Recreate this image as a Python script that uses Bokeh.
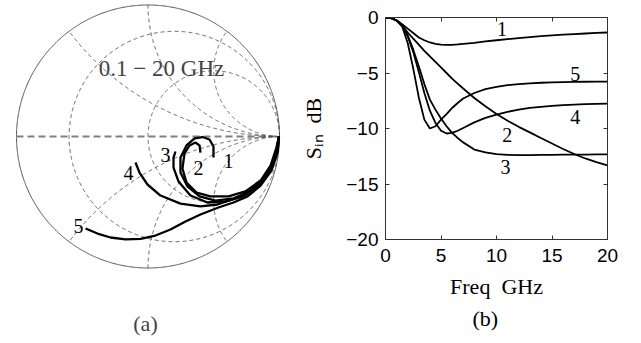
import numpy as np
from bokeh.plotting import figure
from bokeh.models import Range1d, FixedTicker, LinearAxis, Label, Title
from bokeh.layouts import row
from bokeh.core.properties import value
from bokeh.embed import file_html
from bokeh.resources import INLINE

SERIF = "Liberation Serif"
SANS = "Liberation Sans"

# ---------------- Smith chart (a) ----------------
r_grid = [0.25, 1.0]
x_grid = [0.5, 1.0, 2.0]

c1_re = [0.996, 0.985, 0.947, 0.878, 0.779, 0.650, 0.513, 0.392, 0.300, 0.247, 0.247, 0.293, 0.354, 0.414, 0.468, 0.498, 0.498]
c1_im = [0.0, -0.068, -0.205, -0.327, -0.418, -0.471, -0.487, -0.456, -0.380, -0.274, -0.160, -0.068, -0.015, -0.004, -0.023, -0.076, -0.160]
c2_re = [0.996, 0.977, 0.932, 0.856, 0.741, 0.612, 0.475, 0.369, 0.293, 0.262, 0.278, 0.316, 0.361, 0.392, 0.399]
c2_im = [0.0, -0.084, -0.221, -0.335, -0.418, -0.456, -0.456, -0.426, -0.350, -0.243, -0.129, -0.068, -0.046, -0.068, -0.122]
c3_re = [0.996, 0.977, 0.932, 0.848, 0.726, 0.589, 0.452, 0.323, 0.232, 0.194, 0.194, 0.209]
c3_im = [0.0, -0.099, -0.243, -0.365, -0.456, -0.494, -0.502, -0.449, -0.342, -0.236, -0.160, -0.114]
c4_re = [0.996, 0.985, 0.947, 0.894, 0.802, 0.665, 0.529, 0.399, 0.247, 0.095, -0.004, -0.065, -0.095]
c4_im = [0.0, -0.106, -0.221, -0.312, -0.395, -0.471, -0.517, -0.532, -0.510, -0.449, -0.365, -0.274, -0.198]
c5_re = [0.996, 0.985, 0.939, 0.856, 0.757, 0.650, 0.536, 0.399, 0.285, 0.171, 0.057, -0.057, -0.171, -0.285, -0.384, -0.475]
c5_im = [0.0, -0.122, -0.259, -0.373, -0.456, -0.502, -0.540, -0.593, -0.646, -0.707, -0.753, -0.779, -0.783, -0.768, -0.738, -0.700]

smith_lab_text = ["1", "2", "3", "4", "5"]
smith_lab_re = [0.612, 0.384, 0.133, -0.148, -0.528]
smith_lab_im = [-0.183, -0.243, -0.144, -0.281, -0.677]

# ---------------- S_in plot (b) ----------------
freq = [0, 0.5, 1, 1.5, 2, 2.5, 3, 3.5, 4, 4.5, 5, 5.5, 6, 6.5, 7, 8, 9, 10, 11, 12, 13, 14, 15, 16, 17, 18, 19, 20]
s1 = [0, -0.05, -0.25, -0.6, -1.0, -1.4, -1.8, -2.05, -2.25, -2.38, -2.45, -2.47, -2.46, -2.43, -2.38, -2.28, -2.15, -2.05, -1.95, -1.85, -1.76, -1.68, -1.61, -1.55, -1.49, -1.44, -1.39, -1.35]
s2 = [0, -0.05, -0.27, -0.7, -1.35, -1.9, -2.45, -3.0, -3.5, -4.0, -4.5, -5.0, -5.5, -5.95, -6.4, -7.25, -8.0, -8.7, -9.3, -9.85, -10.35, -10.85, -11.35, -11.85, -12.3, -12.7, -13.03, -13.33]
s3 = [0, -0.05, -0.27, -0.7, -1.6, -2.9, -4.4, -6.0, -7.4, -8.3, -9.1, -9.8, -10.4, -10.85, -11.25, -11.9, -12.15, -12.3, -12.37, -12.4, -12.4, -12.38, -12.37, -12.36, -12.35, -12.35, -12.34, -12.34]
s4 = [0, -0.05, -0.27, -0.72, -1.7, -3.1, -4.9, -6.8, -8.4, -9.5, -10.2, -10.45, -10.4, -10.2, -9.95, -9.45, -9.05, -8.75, -8.5, -8.3, -8.15, -8.05, -7.97, -7.9, -7.85, -7.81, -7.78, -7.76]
s5 = [0, -0.05, -0.28, -0.8, -2.3, -4.6, -7.2, -9.2, -10.0, -9.8, -9.2, -8.7, -8.15, -7.7, -7.3, -6.8, -6.45, -6.25, -6.1, -6.0, -5.93, -5.88, -5.85, -5.82, -5.8, -5.79, -5.78, -5.77]

curve_lab_text = ["1", "2", "3", "4", "5"]
curve_lab_f = [10.5, 10.96, 10.8, 17.1, 17.1]
curve_lab_db = [-1.0, -10.6, -13.5, -9.0, -5.05]

x_ticks = [0, 5, 10, 15, 20]
y_ticks = [-20, -15, -10, -5, 0]

# ================= figure (a) =================
p1 = figure(width=295, height=340, x_range=Range1d(-1.1217, 1.1217),
            y_range=Range1d(-1.5513, 1.0342), x_axis_type=None, y_axis_type=None,
            output_backend="svg", toolbar_location=None, min_border=0)
p1.outline_line_color = None
p1.frame_align = False

th = np.linspace(0, 2 * np.pi, 721)
p1.line(np.cos(th), np.sin(th), line_color="#555555", line_width=1)
p1.line([-1, 1], [0, 0], line_color="#808080", line_width=1.8, line_dash="7 4")
for r in r_grid:
    c = r / (1 + r)
    rad = 1 / (1 + r)
    p1.line(c + rad * np.cos(th), rad * np.sin(th), line_color="#555555",
            line_width=0.9, line_dash="4 3")
for xv in x_grid:
    for sgn in (1, -1):
        cy = 1.0 / xv
        rad = 1.0 / xv
        px = (xv ** 2 - 1) / (xv ** 2 + 1)
        py = 2 * xv / (xv ** 2 + 1)
        t_end = np.arctan2(py - cy, px - 1)
        if t_end > -np.pi / 2:
            t_end -= 2 * np.pi
        t = np.linspace(-np.pi / 2, t_end, 300)
        p1.line(1 + rad * np.cos(t), sgn * (cy + rad * np.sin(t)),
                line_color="#555555", line_width=0.9, line_dash="4 3")

for re_, im_ in [(c1_re, c1_im), (c2_re, c2_im), (c3_re, c3_im), (c4_re, c4_im), (c5_re, c5_im)]:
    p1.line(re_, im_, line_color="black", line_width=2.3, line_join="round")

p1.text(smith_lab_re, smith_lab_im, text=smith_lab_text, text_font=value(SERIF),
        text_font_size="20px", text_align="center", text_baseline="middle", text_color="black")
p1.add_layout(Label(x=0.103, y=0.517, text="0.1 \u2212 20 GHz", text_font=SERIF,
                    text_font_size="23px", text_align="center", text_baseline="middle"))
p1.add_layout(Label(x=-0.019, y=-1.422, text="(a)", text_font=SERIF,
                    text_font_size="22px", text_align="center", text_baseline="middle"))

# ================= figure (b) =================
p2 = figure(width=343, height=340, x_range=Range1d(0, 20), y_range=Range1d(-20, 0),
            output_backend="svg", toolbar_location=None,
            min_border_left=90, min_border_right=31, min_border_top=17, min_border_bottom=101)
p2.frame_align = False
p2.grid.visible = False
p2.outline_line_color = "#333333"

for ax, ticks in [(p2.xaxis[0], x_ticks), (p2.yaxis[0], y_ticks)]:
    ax.ticker = FixedTicker(ticks=ticks)
    ax.major_tick_in = 4
    ax.major_tick_out = 0
    ax.minor_tick_line_color = None
    ax.axis_line_color = "#333333"
    ax.major_tick_line_color = "#333333"
    ax.major_label_text_font = SANS
    ax.major_label_text_font_size = "19px"
    ax.major_label_text_color = "black"
    ax.major_label_overrides = {t: (str(t) if t >= 0 else "\u2212" + str(-t)) for t in ticks}
p2.xaxis.major_label_standoff = 9
p2.yaxis.major_label_standoff = 7
p2.xaxis.axis_label = "Freq\u00a0\u00a0GHz"
p2.xaxis.axis_label_standoff = 9
p2.yaxis.axis_label = "S\u1d62\u2099\u00a0\u00a0dB"
p2.yaxis.axis_label_standoff = 17
for ax in [p2.xaxis[0], p2.yaxis[0]]:
    ax.axis_label_text_font = SERIF
    ax.axis_label_text_font_size = "22px"
    ax.axis_label_text_font_style = "normal"
    ax.axis_label_text_color = "black"

for loc, ticks in [("above", x_ticks), ("right", y_ticks)]:
    ax = LinearAxis(ticker=FixedTicker(ticks=ticks), major_label_text_font_size="1px",
                    major_label_text_color=None, major_label_standoff=0,
                    major_tick_in=4, major_tick_out=0,
                    minor_tick_line_color=None, axis_line_color="#333333",
                    major_tick_line_color="#333333")
    p2.add_layout(ax, loc)

for s in [s1, s2, s3, s4, s5]:
    p2.line(freq, s, line_color="black", line_width=1.8)

p2.text(curve_lab_f, curve_lab_db, text=curve_lab_text, text_font=value(SERIF),
        text_font_size="20px", text_align="center", text_baseline="middle", text_color="black")

p2.add_layout(Title(text="(b)", align="left", offset=87, standoff=4, text_font=SERIF,
                    text_font_size="22px", text_font_style="normal", text_color="black"),
              "below")

layout = row(p1, p2)
open("out.html", "w").write(file_html(layout, INLINE))
